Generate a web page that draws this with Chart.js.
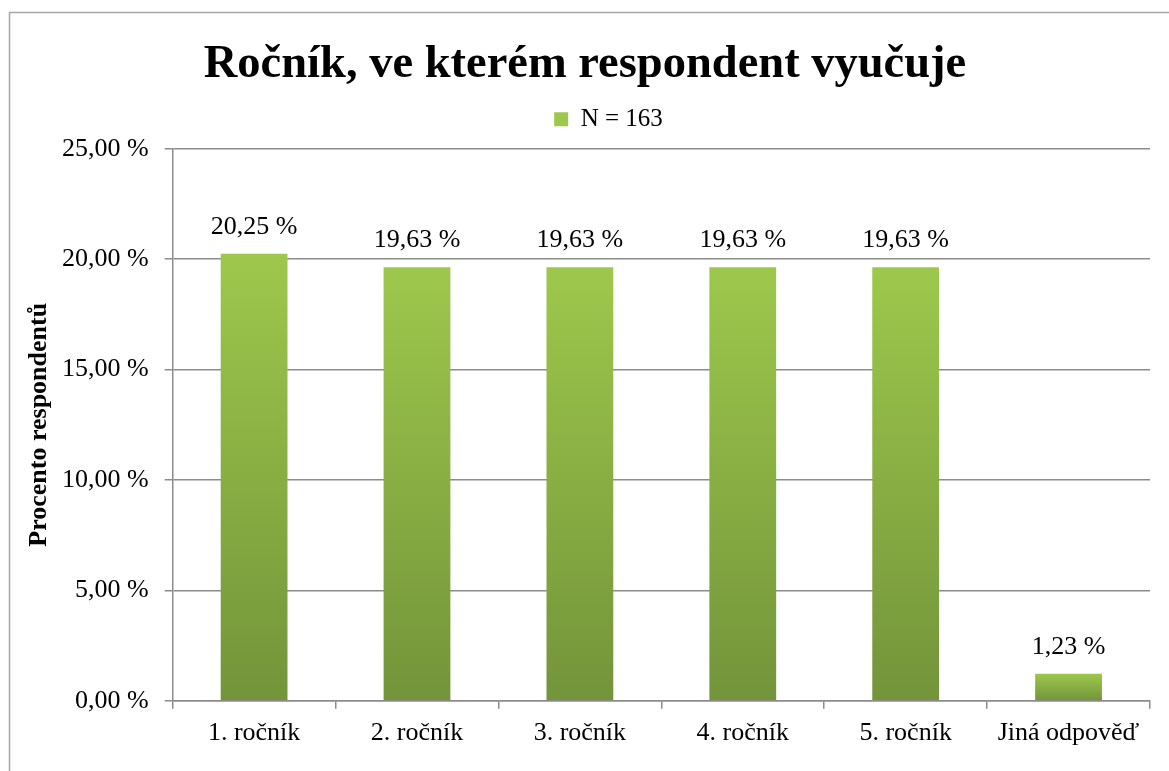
<!DOCTYPE html>
<html>
<head>
<meta charset="utf-8">
<script src="https://cdn.jsdelivr.net/npm/chart.js@4"></script>
<style>
  html, body { margin: 0; padding: 0; background: #ffffff; overflow: hidden; }
  #wrap { position: relative; width: 1169px; height: 771px; }
</style>
</head>
<body>
<div id="wrap"><canvas id="c" width="1169" height="771"></canvas></div>
<script>
const chartTitle = 'Ročník, ve kterém respondent vyučuje';
const seriesName = 'N = 163';
const axisTitle = 'Procento respondentů';
const categories = ['1. ročník', '2. ročník', '3. ročník', '4. ročník', '5. ročník', 'Jiná odpověď'];
const values = [20.25, 19.63, 19.63, 19.63, 19.63, 1.23];
const yTicks = [0, 5, 10, 15, 20, 25];

const SERIF = '"Liberation Serif", "Times New Roman", serif';
const fmt = v => v.toFixed(2).replace('.', ',') + ' %';

const frame = {
  id: 'frame',
  beforeDraw(chart) {
    const c = chart.ctx;
    c.save();
    c.fillStyle = '#ffffff';
    c.fillRect(0, 0, chart.width, chart.height);
    c.strokeStyle = '#a6a6a6';
    c.lineWidth = 1.5;
    c.strokeRect(9.5, 12.5, 3000, 3000);
    c.restore();
  }
};

const boxTweaks = {
  id: 'boxTweaks',
  beforeLayout(chart) {
    const lg = chart.legend;
    if (lg && !lg._gapWrapped) {
      const orig = lg.fit;
      lg.fit = function () { orig.call(this); this.height += 7; };
      lg._gapWrapped = true;
    }
  },
  afterLayout(chart) {
    if (chart.titleBlock) chart.titleBlock.left -= 13;
    if (chart.legend) { chart.legend.left += 17; chart.legend.right += 17; }
  }
};

const barLabels = {
  id: 'barLabels',
  afterDatasetsDraw(chart) {
    const c = chart.ctx;
    const meta = chart.getDatasetMeta(0);
    c.save();
    c.font = '26px ' + SERIF;
    c.fillStyle = '#000000';
    c.textAlign = 'center';
    c.textBaseline = 'alphabetic';
    meta.data.forEach((bar, i) => {
      c.fillText(fmt(values[i]), bar.x, bar.y - 20);
    });
    c.restore();
  }
};

new Chart(document.getElementById('c'), {
  type: 'bar',
  data: {
    labels: categories,
    datasets: [{
      label: seriesName,
      data: values,
      barPercentage: 0.41,
      categoryPercentage: 1.0,
      backgroundColor: (ctx) => {
        const chart = ctx.chart;
        const y = chart.scales && chart.scales.y;
        if (ctx.type !== 'data' || !y || !isFinite(y.getPixelForValue(0))) return '#8ebb47';
        const top = y.getPixelForValue(ctx.raw);
        const bottom = y.getPixelForValue(0);
        if (!isFinite(top) || Math.abs(bottom - top) < 1) return '#8ebb47';
        const g = chart.ctx.createLinearGradient(0, top, 0, bottom);
        g.addColorStop(0, '#9dc84c');
        g.addColorStop(1, '#73943a');
        return g;
      },
      borderWidth: 0
    }]
  },
  options: {
    responsive: false,
    animation: false,
    layout: { padding: { left: 33, right: 19, top: 37, bottom: 13 } },
    plugins: {
      title: {
        display: true,
        text: chartTitle,
        color: '#000000',
        font: { family: SERIF, size: 46.5, weight: 'bold' },
        padding: { top: 0, bottom: 2 }
      },
      legend: {
        display: true,
        position: 'top',
        labels: {
          color: '#000000',
          font: { family: SERIF, size: 25 },
          boxWidth: 14,
          boxHeight: 14,
          padding: 12
        }
      },
      tooltip: { enabled: false }
    },
    scales: {
      x: {
        offset: true,
        grid: {
          display: true,
          offset: true,
          drawOnChartArea: false,
          drawTicks: true,
          tickLength: 8,
          color: '#8c8c8c',
          lineWidth: 1.5
        },
        border: { display: true, color: '#8c8c8c', width: 1.5 },
        ticks: {
          color: '#000000',
          font: { family: SERIF, size: 26 },
          padding: 9,
          maxRotation: 0,
          autoSkip: false
        }
      },
      y: {
        min: 0,
        max: 25,
        afterBuildTicks(axis) { axis.ticks = yTicks.map(v => ({ value: v })); },
        grid: {
          color: '#8c8c8c',
          lineWidth: 1.5,
          drawTicks: true,
          tickLength: 8
        },
        border: { display: true, color: '#8c8c8c', width: 1.5 },
        ticks: {
          color: '#000000',
          font: { family: SERIF, size: 26 },
          padding: 16,
          callback: v => fmt(v)
        },
        title: {
          display: true,
          text: axisTitle,
          color: '#000000',
          font: { family: SERIF, size: 26, weight: 'bold', lineHeight: 0.5 },
          padding: { top: 0, bottom: 0 }
        }
      }
    }
  },
  plugins: [frame, boxTweaks, barLabels]
});
</script>
</body>
</html>
